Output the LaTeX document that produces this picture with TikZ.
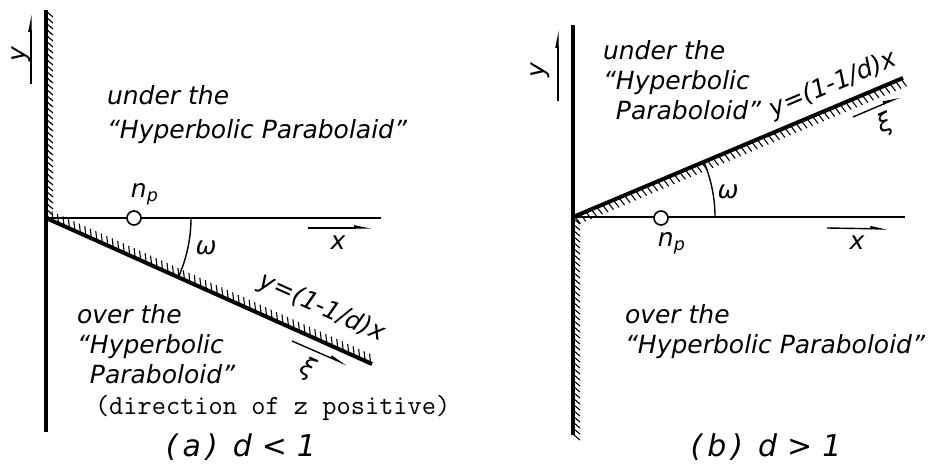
\documentclass[tikz,border=0pt]{standalone}
\usepackage{fontspec}
\usepackage{tikz}
\usetikzlibrary{arrows.meta, positioning, decorations.markings, angles}
\newfontfamily\labfont{DejaVu Sans}
\tikzstyle{arrow} = [line width=0.7pt, -{Stealth[harpoon,length=7pt,width=2.6pt,inset=0pt]}]

\begin{document}
\begin{tikzpicture}[
  x=0.5pt, y=-0.5pt,
  every node/.style={inner sep=0pt, outer sep=0pt},
  lab/.style={font=\fontsize{12.5}{15}\selectfont\labfont\itshape},
  big/.style={font=\fontsize{15}{17}\selectfont\labfont\itshape},
  wall/.style={line width=2pt},
  axis/.style={line width=0.8pt},
  hole/.style={draw, circle, fill=white, line width=0.8pt, minimum size=7pt},
  hatch/.style={postaction={decorate, decoration={markings,
    mark=between positions 0.005 and 1 step 3pt with {\draw[line width=0.55pt] (0,0) -- (#1);}}}}
]
\useasboundingbox (0,0) rectangle (937,465);

% (a) d < 1
\coordinate (Oa) at (46,218);
\coordinate (wallTa) at (46,10);
\coordinate (wallBa) at (46,432);
\coordinate (xEa) at (381,218);
\coordinate (slEa) at (372,364);

\draw[axis] (Oa) -- (xEa);
\draw[wall, hatch={3pt,3.5pt}] (wallTa) -- (Oa);
\draw[wall] (Oa) -- (wallBa);
\draw[wall, hatch={-2.5pt,4.2pt}] (Oa) -- (slEa);
\pic[draw, line width=0.7pt, angle radius=72.5pt] {angle = slEa--Oa--xEa};
\node[hole] (npa) at (134,218) {};
\node[lab, above right=4pt and -4pt of npa] (npla) {n\textsubscript{p}};
\node[lab] (oma) at (206,248) {ω};

% axis arrows
\coordinate (xa1) at (308,228);
\coordinate (xa2) at (372,228);
\draw[arrow] (xa1) -- (xa2);
\node[lab] (xla) at (338,243) {x};
\coordinate (ya1) at (31,84);
\coordinate (ya2) at (31,14);
\draw[arrow] (ya1) -- (ya2);
\node[lab, rotate=90] (yla) at (21,54) {y};

% slope label and xi
\node[lab, rotate=-24.1] (eqa) at (322,308) {y=(1-1/d)x};
\coordinate (xia1) at (292,341);
\coordinate (xia2) at (347,365);
\draw[arrow] (xia1) -- (xia2);
\node[lab, rotate=-24.1] (xila) at (308,369) {ξ};

% region texts
\node[lab, anchor=west, align=left, font=\fontsize{12.5}{17}\selectfont\labfont\itshape] (undera) at (107,115)
  {under the\\“Hyperbolic Parabolaid”};
\node[lab, anchor=north west, align=left] (overa) at (77,305)
  {over the\\“Hyperbolic\\\phantom{“}Paraboloid”};
\node[anchor=west, font=\fontsize{13.8}{15}\selectfont\ttfamily] (dira) at (95,408)
  {(direction of z positive)};
\node[big] (capa) at (241,447) {(\,a\,)\enspace d\,\,<\,\,1};

% (b) d > 1
\coordinate (Ob) at (573,217);
\coordinate (wallTb) at (573,25);
\coordinate (wallBb) at (573,435);
\coordinate (xEb) at (905,217);
\coordinate (slEb) at (903,78);

\draw[axis] (Ob) -- (xEb);
\draw[wall] (Ob) -- (wallTb);
\draw[wall, hatch={3pt,3.5pt}] (Ob) -- (wallBb);
\draw[wall, hatch={1.2pt,-4.5pt}] (Ob) -- (slEb);
\pic[draw, line width=0.7pt, angle radius=71pt] {angle = xEb--Ob--slEb};
\node[hole] (npb) at (661,218) {};
\node[lab, below right=5pt and -4pt of npb] (nplb) {n\textsubscript{p}};
\node[lab] (omb) at (728,192) {ω};

% axis arrows
\coordinate (xb1) at (827,228);
\coordinate (xb2) at (888,229);
\draw[arrow] (xb1) -- (xb2);
\node[lab] (xlb) at (857,243) {x};
\coordinate (yb1) at (558,101);
\coordinate (yb2) at (558,30);
\draw[arrow] (yb1) -- (yb2);
\node[lab, rotate=90] (ylb) at (540,70) {y};

% slope label and xi
\node[lab, rotate=22.8] (eqb) at (833,85) {y=(1-1/d)x};
\coordinate (xib1) at (853,117);
\coordinate (xib2) at (900,97);
\draw[arrow] (xib1) -- (xib2);
\node[lab, rotate=22.8] (xilb) at (885,124) {ξ};

% region texts
\node[lab, anchor=north west, align=left] (underb) at (603,41)
  {under the\\“Hyperbolic\\\phantom{“}Paraboloid”};
\node[lab, anchor=north west, align=left] (overb) at (625,305)
  {over the\\“Hyperbolic Paraboloid”};
\node[big] (capb) at (766,447) {(\,b\,)\enspace d\,\,>\,\,1};
\end{tikzpicture}
\end{document}
